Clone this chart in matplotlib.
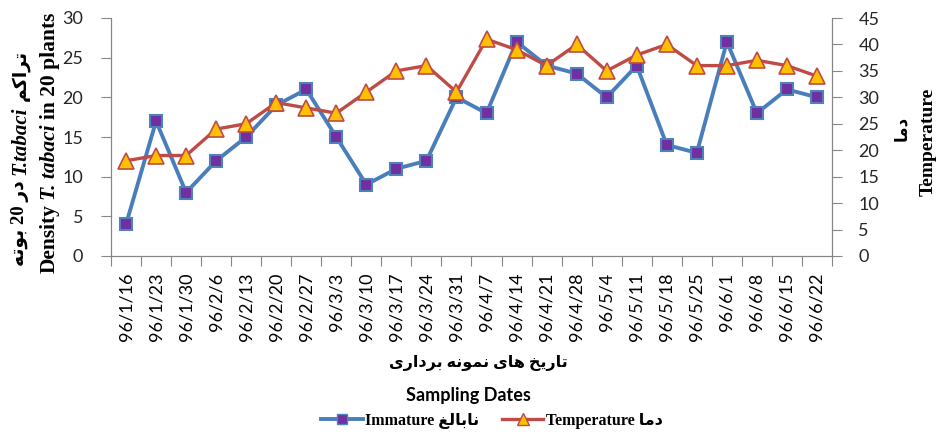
import numpy as np
import matplotlib
matplotlib.use("Agg")
import matplotlib.pyplot as plt
from matplotlib.lines import Line2D

# data
dates = ["96/1/16", "96/1/23", "96/1/30", "96/2/6", "96/2/13", "96/2/20", "96/2/27",
         "96/3/3", "96/3/10", "96/3/17", "96/3/24", "96/3/31", "96/4/7", "96/4/14",
         "96/4/21", "96/4/28", "96/5/4", "96/5/11", "96/5/18", "96/5/25", "96/6/1",
         "96/6/8", "96/6/15", "96/6/22"]
immature = [4, 17, 8, 12, 15, 19, 21, 15, 9, 11, 12, 20, 18, 27, 24, 23, 20, 24, 14, 13, 27, 18, 21, 20]
temperature = [18, 19, 19, 24, 25, 29, 28, 27, 31, 35, 36, 31, 41, 39, 36, 40, 35, 38, 40, 36, 36, 37, 36, 34]

# simple persian shaping (presentation forms, visual order)
FORMS = {  # isolated, final, initial, medial
    'ا': ('\uFE8D', '\uFE8E', None, None),
    'ب': ('\uFE8F', '\uFE90', '\uFE91', '\uFE92'),
    'ت': ('\uFE95', '\uFE96', '\uFE97', '\uFE98'),
    'خ': ('\uFEA5', '\uFEA6', '\uFEA7', '\uFEA8'),
    'د': ('\uFEA9', '\uFEAA', None, None),
    'ر': ('\uFEAD', '\uFEAE', None, None),
    'غ': ('\uFECD', '\uFECE', '\uFECF', '\uFED0'),
    'ل': ('\uFEDD', '\uFEDE', '\uFEDF', '\uFEE0'),
    'م': ('\uFEE1', '\uFEE2', '\uFEE3', '\uFEE4'),
    'ن': ('\uFEE5', '\uFEE6', '\uFEE7', '\uFEE8'),
    'ه': ('\uFEE9', '\uFEEA', '\uFEEB', '\uFEEC'),
    'و': ('\uFEED', '\uFEEE', None, None),
    'ی': ('\uFBFC', '\uFBFD', '\uFBFE', '\uFBFF'),
    'ک': ('\uFB8E', '\uFB8F', '\uFB90', '\uFB91'),
}


def fa(text):
    out = []
    for i, ch in enumerate(text):
        if ch not in FORMS:
            out.append(ch)
            continue
        prev = text[i - 1] if i > 0 else ''
        nxt = text[i + 1] if i + 1 < len(text) else ''
        jp = prev in FORMS and FORMS[prev][2] is not None
        jn = FORMS[ch][2] is not None and nxt in FORMS
        iso, fin, ini, med = FORMS[ch]
        if jp and jn:
            out.append(med)
        elif jp:
            out.append(fin)
        elif jn:
            out.append(ini)
        else:
            out.append(iso)
    return ''.join(reversed(out))


SERIF = ['Liberation Serif', 'DejaVu Sans']
SANS = ['Lato', 'DejaVu Sans']
GRAY = '#868686'

fig = plt.figure(figsize=(9.41, 4.32), dpi=100)
W, H = 941, 432
ax = fig.add_axes([111 / W, 1 - 256 / H, 721 / W, 238 / H])
ax2 = ax.twinx()

x = np.arange(len(dates))
ax.plot(x, immature, color='#4A7EBB', lw=2.8, marker='s', ms=9,
        mfc='#7030A0', mec='#4F81BD', mew=1.5, zorder=3)
ax2.plot(x, temperature, color='#BE4B48', lw=2.4, marker='^', ms=11,
         mfc='#FFC000', mec='#BE4B48', mew=1.2, zorder=3)

ax.set_xlim(-0.5, len(dates) - 0.5)
ax.set_ylim(0, 30)
ax2.set_ylim(0, 45)
ax.set_yticks(range(0, 31, 5))
ax2.set_yticks(range(0, 46, 5))
ax.set_xticks(x)
ax.set_xticklabels(dates, rotation=90, fontfamily=SANS, fontsize=13, color='black')
ax.set_xticks(np.arange(-0.5, len(dates), 1), minor=True)
ax.tick_params(axis='x', which='major', length=0, pad=12)
ax.tick_params(axis='x', which='minor', length=7, width=0.8, color=GRAY, direction='out')
ax.tick_params(axis='y', length=7, width=0.8, color=GRAY, pad=13, labelsize=13)
ax2.tick_params(axis='y', length=7, width=0.8, color=GRAY, pad=12, labelsize=13)
for a in (ax, ax2):
    for lab in a.get_yticklabels():
        lab.set_fontfamily(SANS)
        lab.set_color('#262626')
    a.spines['top'].set_visible(False)
    for s in ('left', 'right', 'bottom'):
        a.spines[s].set_color(GRAY)
        a.spines[s].set_linewidth(0.8)

# stacked rotated labels with mixed styles, centred at yc (pixels from top)
renderer = fig.canvas.get_renderer()


def vlabel(pieces, xc, yc, gap=4):
    texts = [fig.text(xc / W, 0, s, rotation=90, ha='center', va='bottom',
                      fontsize=fs, fontfamily=ff, fontweight='bold', fontstyle=st)
             for s, fs, ff, st in pieces]
    hs = [t.get_window_extent(renderer).height for t in texts]
    total = sum(hs) + gap * (len(hs) - 1)
    y = (H - yc) - total / 2
    for t, h in zip(texts, hs):
        t.set_position((xc / W, y / H))
        y += h + gap


vlabel([(fa('بوته') + ' 20 ' + fa('در'), 13.5, SERIF, 'normal'),
        ('T.tabaci', 15, SERIF, 'italic'),
        (fa('تراکم'), 13.5, SERIF, 'normal')], 20, 158, gap=5)
vlabel([('Density', 15.5, SERIF, 'normal'),
        ('T. tabaci', 15.5, SERIF, 'italic'),
        ('in 20 plants', 15.5, SERIF, 'normal')], 50, 143, gap=5)
fig.text(902 / W, 1 - 128 / H, fa('دما'), rotation=90, ha='center', va='center',
         fontsize=12, fontfamily=SERIF, fontweight='bold')
fig.text(928 / W, 1 - 142 / H, 'Temperature', rotation=90, ha='center', va='center',
         fontsize=14, fontfamily=SERIF, fontweight='bold')

fig.text(478 / W, 1 - 363 / H, fa('تاریخ های نمونه برداری'), ha='center', va='center',
         fontsize=11.5, fontfamily=SERIF, fontweight='bold')
fig.text(468 / W, 1 - 395 / H, 'Sampling Dates', ha='center', va='center',
         fontsize=13, fontfamily=SANS, fontweight='bold')

handles = [Line2D([], [], color='#4A7EBB', lw=2.8, marker='s', ms=7,
                  mfc='#7030A0', mec='#4F81BD', mew=1),
           Line2D([], [], color='#BE4B48', lw=2.4, marker='^', ms=8,
                  mfc='#FFC000', mec='#BE4B48', mew=1)]
labels = ['Immature ' + fa('نابالغ'), 'Temperature ' + fa('دما')]
fig.legend(handles, labels, loc='center', bbox_to_anchor=(492 / W, 1 - 421 / H),
           ncol=2, frameon=False, handlelength=2.6, handletextpad=0.15, columnspacing=1.4,
           prop={'family': SERIF, 'weight': 'bold', 'size': 11.5})

fig.savefig('out.png', dpi=100)
